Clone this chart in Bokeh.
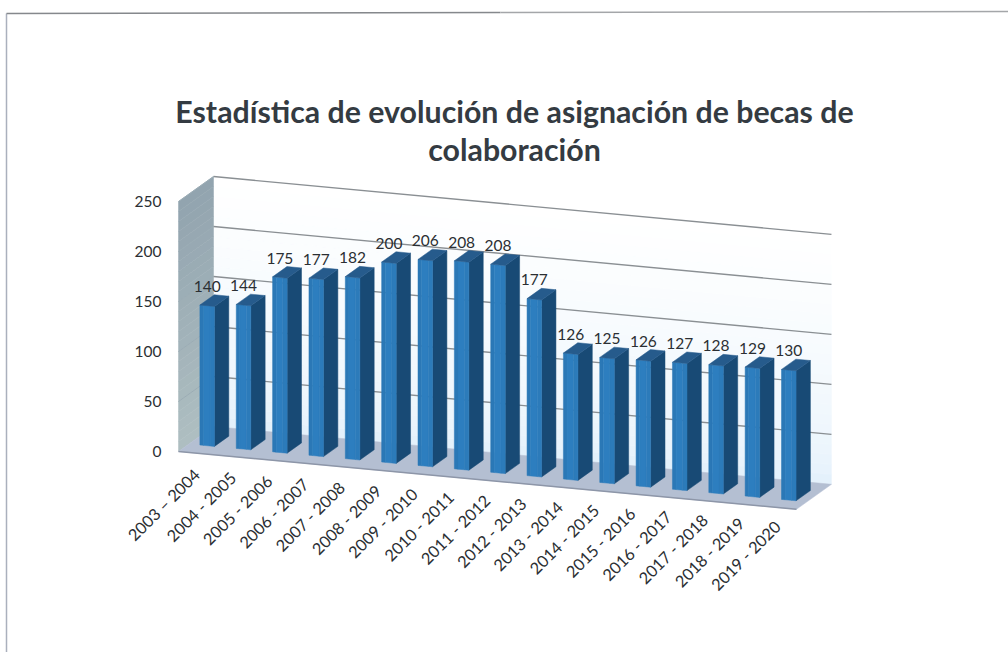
from bokeh.plotting import figure
from bokeh.embed import file_html
from bokeh.resources import INLINE
from bokeh.models import Range1d, FixedTicker
from bokeh.core.properties import value

categories = ["2003 – 2004", "2004 - 2005", "2005 - 2006", "2006 - 2007", "2007 - 2008", "2008 - 2009",
              "2009 - 2010", "2010 - 2011", "2011 - 2012", "2012 - 2013", "2013 - 2014", "2014 - 2015",
              "2015 - 2016", "2016 - 2017", "2017 - 2018", "2018 - 2019", "2019 - 2020"]
becas = [140, 144, 175, 177, 182, 200, 206, 208, 208, 177, 126, 125, 126, 127, 128, 129, 130]
y_ticks = [0, 50, 100, 150, 200, 250]
title_lines = ["Estadística de evolución de asignación de becas de", "colaboración"]

FONT = "Lato"
X0, STEP_X, STEP_Y = 178.0, 36.35, 3.4
DEPTH_X, DEPTH_Y = 35.0, 25.0
C0, C1, D0, D1 = 0.3, 0.7, 0.3, 0.71
N = len(categories)
W, H = 1008, 652
ZERO = 451


def px(c, d):
    return X0 + STEP_X * c + DEPTH_X * d


def py(c, v, d):
    return v - STEP_Y * c + DEPTH_Y * d


def quad(points):
    return [px(c, d) for c, v, d in points], [py(c, v, d) for c, v, d in points]


def add_quads(p, quads, colors, **kw):
    xs, ys = zip(*[quad(q) for q in quads])
    p.patches(list(xs), list(ys), fill_color=colors, line_color=colors, line_width=kw.get("lw", 0.5))


p = figure(width=W, height=H, output_backend="svg", toolbar_location=None,
           x_range=Range1d(0, W), y_range=Range1d(ZERO - H, ZERO),
           min_border=0, outline_line_color=None, background_fill_color="#ffffff")
p.grid.visible = False
p.xaxis.visible = False

# page frame of the scan
p.line([6, 6], [ZERO - H, ZERO - 13], line_color="#aab0bd", line_width=1.5)
p.line([6, 500], [ZERO - 13, ZERO - 12], line_color="#85888c", line_width=1.5)
p.line([500, W], [ZERO - 12, ZERO - 11], line_color="#a4a6a9", line_width=1.5)


def mix(a, b, t):
    return "#%02x%02x%02x" % tuple(round(a[k] + (b[k] - a[k]) * t) for k in range(3))


# back wall and left wall, shaded in bands
bands = list(range(0, 250, 10))
wall_low, wall_high = (228, 241, 251), (255, 255, 255)
side_low, side_high = (174, 190, 193), (146, 164, 175)
add_quads(p, [[(0, b, 1), (17, b, 1), (17, b + 10, 1), (0, b + 10, 1)] for b in bands],
          [mix(wall_low, wall_high, (b / 240) ** 0.6) for b in bands])
add_quads(p, [[(0, b, 0), (0, b, 1), (0, b + 10, 1), (0, b + 10, 0)] for b in bands],
          [mix(side_low, side_high, b / 240) for b in bands])

# floor
add_quads(p, [[(0, 0, 0), (17, 0, 0), (17, 0, 1), (0, 0, 1)]], ["#b4bfd2"])
p.line([px(0, 0), px(17, 0)], [py(0, 0, 0), py(17, 0, 0)], line_color="#8d96a8", line_width=1.5)

# gridlines
for t in y_ticks[1:]:
    p.line([px(0, 1), px(17, 1)], [py(0, t, 1), py(17, t, 1)], line_color="#8a8f93", line_width=1.3)
    p.line([px(0, 0), px(0, 1)], [py(0, t, 0), py(0, t, 1)], line_color="#9bacb5", line_width=1)

# bars: the front face is shaded in strips across its width
strips = [0.0, 0.25, 0.7, 1.0]
strip_colors = ["#2b78b6", "#2d7ebf", "#2c7bba"]
sides, tops = [], []
for i, v in enumerate(becas):
    r = i + C1
    sides.append([(r, 0, D0), (r, 0, D1), (r, v, D1), (r, v, D0)])
    tops.append([(i + C0, v, D0), (r, v, D0), (r, v, D1), (i + C0, v, D1)])
add_quads(p, sides, ["#184a75"] * N)
for s in range(len(strip_colors)):
    quads = []
    for i, v in enumerate(becas):
        a = i + C0 + (C1 - C0) * strips[s]
        b = i + C0 + (C1 - C0) * strips[s + 1]
        quads.append([(a, 0, D0), (b, 0, D0), (b, v, D0), (a, v, D0)])
    add_quads(p, quads, [strip_colors[s]] * N)
add_quads(p, tops, ["#265b8c"] * N)

# value labels
p.text([px(i + 0.5, D0) for i in range(N)],
       [py(i + 0.5, v, D0) + 19.5 for i, v in enumerate(becas)],
       text=[str(v) for v in becas], text_font=value(FONT), text_font_size="15.5px",
       text_color="#2b2f33", text_align="center", text_baseline="middle")

# category labels
p.text([196 + 36.3 * i for i in range(N)], [ZERO - 471 - 3.25 * i for i in range(N)],
       text=categories, angle=0.7854, text_font=value(FONT), text_font_size="16.3px",
       text_color="#2b2f33", text_align="right", text_baseline="middle")

# title
p.text([514, 514], [ZERO - 110.5, ZERO - 148.5], text=title_lines, text_font=value(FONT),
       text_font_size="30.3px", text_font_style="bold", text_color="#343b42",
       text_align="center", text_baseline="middle")

# value axis
ax = p.yaxis[0]
ax.fixed_location = 171
ax.ticker = FixedTicker(ticks=y_ticks)
ax.axis_line_color = None
ax.major_tick_line_color = None
ax.minor_tick_line_color = None
ax.major_label_standoff = 4
ax.major_label_text_font = FONT
ax.major_label_text_font_size = "15.5px"
ax.major_label_text_color = "#2b2f33"

open("out.html", "w").write(file_html(p, INLINE))
